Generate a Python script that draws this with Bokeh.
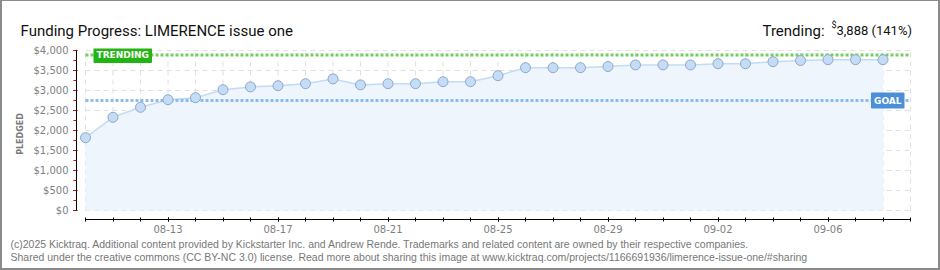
from bokeh.plotting import figure
from bokeh.layouts import column, row
from bokeh.models import (Range1d, Label, FixedTicker, SingleIntervalTicker,
                          NumeralTickFormatter, Spacer)
from bokeh.core.properties import value
from bokeh.embed import file_html
from bokeh.resources import INLINE

# ---------------- data ----------------
dates = ["08-10", "08-11", "08-12", "08-13", "08-14", "08-15", "08-16", "08-17",
         "08-18", "08-19", "08-20", "08-21", "08-22", "08-23", "08-24", "08-25",
         "08-26", "08-27", "08-28", "08-29", "08-30", "08-31", "09-01", "09-02",
         "09-03", "09-04", "09-05", "09-06", "09-07", "09-08", "09-09"]
pledged = [1820, 2330, 2580, 2770, 2820, 3020, 3090, 3120, 3170, 3290,
           3140, 3170, 3170, 3220, 3220, 3370, 3570, 3570, 3570, 3600,
           3640, 3640, 3640, 3670, 3670, 3720, 3750, 3770, 3770, 3770]
x_tick_labels = ["08-13", "08-17", "08-21", "08-25", "08-29", "09-02", "09-06"]
goal = 2750
trending = 3888
trending_amount = "3,888"
trending_pct = "141%"
y_max = 4000
y_step = 500

title_text = "Funding Progress: LIMERENCE issue one"
footer1 = ("(c)2025 Kicktraq. Additional content provided by Kickstarter Inc. and Andrew Rende. "
           "Trademarks and related content are owned by their respective companies.")
footer2 = ("Shared under the creative commons (CC BY-NC 3.0) license. Read more about sharing this "
           "image at www.kicktraq.com/projects/1166691936/limerence-issue-one/#sharing")

BORDER = "#8a8a8a"
IW = 936          # inner width
HEAD_H = 39
MAIN_H = 198
FOOT_H = 30


def blank(h):
    f = figure(width=IW, height=h, output_backend="svg", toolbar_location=None,
               x_range=Range1d(0, IW), y_range=Range1d(h, 0),
               x_axis_location=None, y_axis_location=None,
               min_border=0, min_border_left=0, min_border_right=0,
               min_border_top=0, min_border_bottom=0, frame_align=False)
    f.grid.visible = False
    f.outline_line_color = None
    f.background_fill_color = "white"
    f.border_fill_color = "white"
    return f


# ---------------- header ----------------
head = blank(HEAD_H)
head.text(x=[18], y=[29], text=[title_text], text_font=value("Roboto"),
          text_font_size="15px", text_color="#111111", text_baseline="alphabetic")
head.text(x=[760], y=[29], text=["Trending:"], text_font=value("Roboto"),
          text_font_size="15px", text_color="#111111", text_baseline="alphabetic")
head.text(x=[829], y=[23], text=["$"], text_font=value("Roboto"),
          text_font_size="9px", text_color="#111111", text_baseline="alphabetic")
head.text(x=[834], y=[29], text=[trending_amount + " (" + trending_pct + ")"],
          text_font=value("Roboto"), text_font_size="13px", text_color="#111111",
          text_baseline="alphabetic")

# ---------------- footer ----------------
foot = blank(FOOT_H)
foot.text(x=[8, 8], y=[5, 18], text=[footer1, footer2],
          text_font=value("Liberation Sans"), text_font_size="10.5px",
          text_color="#777777", text_baseline="middle")

# ---------------- main chart ----------------
n_days = len(dates) - 1
xs = list(range(len(pledged)))
px_day = 27.5
px_val = 25.0

p = figure(width=IW, height=MAIN_H, output_backend="svg", toolbar_location=None,
           x_range=Range1d(-9 / px_day, n_days + 2 / px_day),
           y_range=Range1d(-9 * px_val, y_max + 2 * px_val),
           min_border_left=74, min_border_right=26,
           min_border_top=8, min_border_bottom=MAIN_H - 8 - 171,
           frame_align=False)
p.xgrid.visible = False
p.ygrid.visible = False
p.outline_line_color = None
p.background_fill_color = "white"
p.border_fill_color = "white"

yt = list(range(0, y_max + 1, y_step))
p.segment(x0=[0] * len(yt), x1=[n_days] * len(yt), y0=yt, y1=yt,
          line_color="#e0e0e0", line_dash="5 4", line_width=1)
xt = list(range(0, n_days + 1))
p.segment(x0=xt, x1=xt, y0=[0] * len(xt), y1=[y_max] * len(xt),
          line_color="#e0e0e0", line_dash="5 4", line_width=1)

p.varea(x=xs, y1=[0] * len(xs), y2=pledged, fill_color="#eef5fd")
p.line(xs, pledged, line_color="#c2dbf4", line_width=1.5)

p.segment(x0=[0], x1=[n_days], y0=[trending], y1=[trending],
          line_color="#70cf60", line_width=3, line_dash="3 2")
p.segment(x0=[0], x1=[n_days], y0=[goal], y1=[goal],
          line_color="#8dbbea", line_width=3, line_dash="3 2")

p.scatter(xs, pledged, size=10, fill_color="#c4dcf6", line_color="#8ea8c8",
          line_width=1)

p.add_layout(Label(x=0, y=trending, x_offset=8, text="TRENDING",
                   text_align="left", text_baseline="middle",
                   text_font="DejaVu Sans", text_font_size="9px",
                   text_font_style="bold", text_color="white",
                   background_fill_color="#22b414", padding=3,
                   border_radius=1))
p.add_layout(Label(x=n_days, y=goal, x_offset=-6, text="GOAL",
                   text_align="right", text_baseline="middle",
                   text_font="DejaVu Sans", text_font_size="9px",
                   text_font_style="bold", text_color="white",
                   background_fill_color="#4a8fd8", padding=3,
                   border_radius=1))

yax = p.yaxis[0]
yax.ticker = SingleIntervalTicker(interval=y_step, num_minor_ticks=2)
yax.formatter = NumeralTickFormatter(format="$0,0")
yax.bounds = (0, y_max)
yax.axis_line_color = "black"
yax.major_tick_line_color = "black"
yax.major_tick_out = 3
yax.major_tick_in = 1
yax.minor_tick_line_color = "#e00000"
yax.minor_tick_out = 3
yax.minor_tick_in = 0
yax.major_label_text_font = "DejaVu Sans"
yax.major_label_text_font_size = "10px"
yax.major_label_text_color = "#808080"
yax.major_label_standoff = 5
yax.axis_label = "PLEDGED"
yax.axis_label_text_font = "DejaVu Sans"
yax.axis_label_text_font_size = "8px"
yax.axis_label_text_font_style = "bold"
yax.axis_label_text_color = "#7a7a7a"
yax.axis_label_standoff = 6

xax = p.xaxis[0]
major_pos = [dates.index(d) for d in x_tick_labels]
xax.ticker = FixedTicker(ticks=major_pos, minor_ticks=xt)
xax.major_label_overrides = {i: dates[i] for i in major_pos}
xax.bounds = (0, n_days)
xax.axis_line_color = "black"
xax.major_tick_line_color = "black"
xax.major_tick_out = 2
xax.major_tick_in = 2
xax.minor_tick_line_color = "black"
xax.minor_tick_out = 2
xax.minor_tick_in = 2
xax.major_label_text_font = "DejaVu Sans"
xax.major_label_text_font_size = "10px"
xax.major_label_text_color = "#808080"
xax.major_label_standoff = 3


def strip(w, h):
    return Spacer(width=w, height=h, styles={"background-color": BORDER})


inner = column(strip(IW, 1), head, p, foot, strip(IW, 2), spacing=0)
layout = row(strip(2, 270), inner, strip(2, 270), spacing=0)

open("out.html", "w").write(file_html(layout, INLINE))
